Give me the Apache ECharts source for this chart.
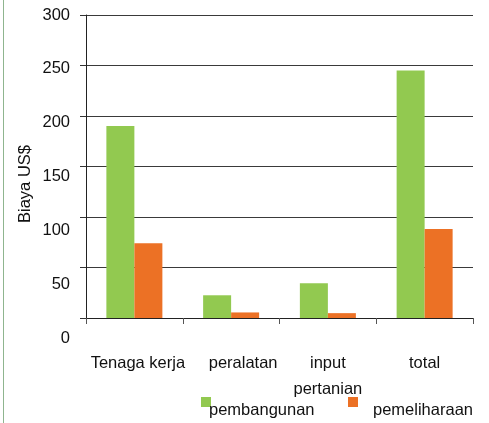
<!DOCTYPE html>
<html>
<head>
<meta charset="utf-8">
<script src="https://cdn.jsdelivr.net/npm/echarts@6/dist/echarts.min.js"></script>
<style>
  html, body { margin: 0; padding: 0; background: #fff; }
  #chart { width: 489px; height: 423px; }
</style>
</head>
<body>
<div id="chart"></div>
<script>
// Biaya (US$) per kategori
const categories = ['Tenaga kerja', 'peralatan', 'input\npertanian', 'total'];
const pembangunan = [190, 22.5, 34.5, 245];
const pemeliharaan = [74, 5.5, 4.8, 88];
const yTicks = [0, 50, 100, 150, 200, 250, 300];

const FONT = 'Liberation Sans, Arial, sans-serif';
const FS = 16.5;
const GREEN = '#92C950';
const ORANGE = '#EC7125';
const yMin = yTicks[0];
const yMax = yTicks[yTicks.length - 1];
const yStep = yTicks[1] - yTicks[0];

// Legend key: a 10x10 square sitting at the top of a taller box,
// so the caption lands a little lower than the swatch.
const KEY_ICON = 'path://M0,0H10V10H0Z M0,26L10,26';

const chart = echarts.init(document.getElementById('chart'), null, { renderer: 'canvas' });

// Per-label nudges for the category names
const catPad = { 'Tenaga kerja': [0, 0, 0, 7], 'peralatan': [0, 0, 0, 24] };

chart.setOption({
  animation: false,
  textStyle: { fontFamily: FONT },
  grid: [
    { left: 86, right: 16, top: 15, bottom: 105 },
    // label track for the value axis
    { left: 86, right: 16, top: 15, bottom: 85 }
  ],
  xAxis: [
    {
      type: 'category',
      gridIndex: 0,
      data: categories.map(c => ({
        value: c,
        textStyle: catPad[c] ? { padding: catPad[c] } : {}
      })),
      boundaryGap: true,
      axisLine: { show: true, lineStyle: { color: '#222', width: 1 } },
      axisTick: { show: true, inside: false, length: 6, lineStyle: { color: '#555' } },
      axisLabel: {
        margin: 32, fontSize: FS, color: '#111', fontFamily: FONT,
        lineHeight: 26, interval: 0
      }
    },
    { type: 'category', gridIndex: 1, show: false, data: categories }
  ],
  yAxis: [
    {
      type: 'value',
      gridIndex: 0,
      min: yMin, max: yMax, interval: yStep,
      axisLine: { show: true, lineStyle: { color: '#222', width: 1 } },
      axisTick: { show: true, length: 6, lineStyle: { color: '#333' } },
      axisLabel: { show: false },
      splitLine: { show: true, lineStyle: { color: '#3a3a3a', width: 1 } }
    },
    {
      type: 'value',
      gridIndex: 1,
      min: yMin, max: yMax, interval: yStep,
      axisLine: { show: false },
      axisTick: { show: false },
      splitLine: { show: false },
      axisLabel: {
        margin: 16, fontSize: FS, color: '#111', fontFamily: FONT,
        formatter: v => (yTicks.indexOf(v) >= 0 ? String(v) : '')
      }
    }
  ],
  legend: [
    {
      left: 201, top: 397, padding: 0,
      itemWidth: 10, itemHeight: 26, itemGap: 0,
      icon: KEY_ICON,
      data: ['pembangunan'],
      textStyle: { fontSize: FS, color: '#111', fontFamily: FONT, padding: [0, 0, 0, -7] },
      selectedMode: false
    },
    {
      left: 348, top: 397, padding: 0,
      itemWidth: 10, itemHeight: 26, itemGap: 0,
      icon: KEY_ICON,
      data: ['pemeliharaan'],
      textStyle: { fontSize: FS, color: '#111', fontFamily: FONT, padding: [0, 0, 0, 10] },
      selectedMode: false
    }
  ],
  graphic: [
    {
      type: 'line',
      shape: { x1: 3.5, y1: 0, x2: 3.5, y2: 423 },
      style: { stroke: '#8fb58f', lineWidth: 1 },
      silent: true
    },
    {
      type: 'text',
      x: 25, y: 184,
      rotation: Math.PI / 2,
      style: {
        text: 'Biaya US$', fontSize: FS, fontFamily: FONT, fill: '#111',
        align: 'center', verticalAlign: 'middle'
      },
      silent: true
    }
  ],
  series: [
    {
      name: 'pembangunan',
      type: 'bar',
      xAxisIndex: 0, yAxisIndex: 0,
      data: pembangunan,
      barWidth: 28,
      barGap: '0%',
      itemStyle: { color: GREEN }
    },
    {
      name: 'pemeliharaan',
      type: 'bar',
      xAxisIndex: 0, yAxisIndex: 0,
      data: pemeliharaan,
      barWidth: 28,
      barGap: '0%',
      itemStyle: { color: ORANGE }
    }
  ]
});
</script>
</body>
</html>
